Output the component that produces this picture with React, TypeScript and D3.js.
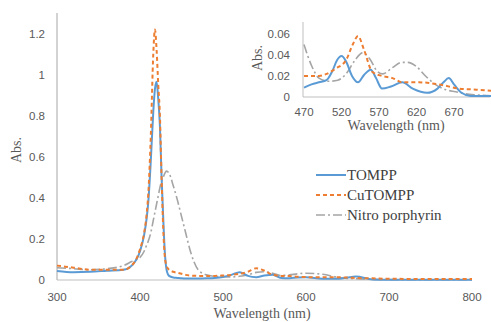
import React from "react";
import * as d3 from "d3";

// Main spectrum data
const mainWl = [300, 320, 340, 360, 380, 390, 400, 405, 408, 410, 413, 416, 418, 420, 422, 424, 426, 428, 430, 432, 435, 440, 445, 450, 455, 460, 470, 480, 490, 500, 510, 520, 530, 540, 550, 560, 570, 580, 590, 600, 620, 640, 650, 660, 680, 700, 750, 800];
const tomppAbs = [0.044, 0.038, 0.04, 0.045, 0.05, 0.07, 0.14, 0.22, 0.3, 0.38, 0.58, 0.82, 0.93, 0.965, 0.88, 0.75, 0.5, 0.3, 0.13, 0.05, 0.02, 0.012, 0.01, 0.008, 0.007, 0.007, 0.007, 0.008, 0.01, 0.015, 0.025, 0.038, 0.02, 0.014, 0.022, 0.026, 0.01, 0.009, 0.012, 0.013, 0.006, 0.006, 0.012, 0.017, 0.003, 0.001, 0.001, 0.001];
const cuAbs = [0.07, 0.06, 0.05, 0.05, 0.05, 0.07, 0.15, 0.23, 0.32, 0.42, 0.7, 1.1, 1.22, 1.12, 0.95, 0.8, 0.5, 0.25, 0.11, 0.07, 0.05, 0.04, 0.035, 0.03, 0.025, 0.022, 0.02, 0.02, 0.02, 0.022, 0.025, 0.03, 0.04, 0.057, 0.045, 0.025, 0.02, 0.019, 0.016, 0.014, 0.014, 0.013, 0.012, 0.01, 0.008, 0.006, 0.005, 0.005];
const nitroAbs = [0.06, 0.055, 0.05, 0.055, 0.07, 0.09, 0.11, 0.14, 0.17, 0.19, 0.23, 0.29, 0.33, 0.37, 0.41, 0.45, 0.48, 0.5, 0.52, 0.53, 0.52, 0.46, 0.39, 0.31, 0.23, 0.15, 0.05, 0.025, 0.018, 0.016, 0.015, 0.018, 0.025, 0.037, 0.04, 0.033, 0.022, 0.025, 0.03, 0.033, 0.028, 0.012, 0.008, 0.006, 0.003, 0.002, 0.001, 0.001];
const mainXTicks = [300, 400, 500, 600, 700, 800];
const mainYTicks = [0, 0.2, 0.4, 0.6, 0.8, 1, 1.2];

// Inset data
const insetTomppWl = [470, 480, 490, 500, 508, 514, 520, 526, 534, 542, 550, 559, 566, 574, 586, 601, 615, 634, 648, 656, 663, 670, 680, 692, 720];
const insetTomppAbs = [0.009, 0.012, 0.014, 0.016, 0.025, 0.035, 0.039, 0.034, 0.02, 0.014, 0.021, 0.026, 0.018, 0.008, 0.01, 0.014, 0.008, 0.004, 0.008, 0.014, 0.018, 0.012, 0.004, 0.001, 0.001];
const insetCuWl = [470, 480, 490, 500, 512, 526, 535, 542, 550, 561, 574, 588, 601, 623, 650, 677, 700, 720];
const insetCuAbs = [0.02, 0.02, 0.02, 0.022, 0.027, 0.035, 0.05, 0.058, 0.045, 0.024, 0.02, 0.018, 0.014, 0.014, 0.012, 0.008, 0.007, 0.006];
const insetNitroWl = [470, 480, 490, 503, 515, 526, 538, 548, 558, 567, 575, 588, 600, 608, 620, 632, 645, 659, 672, 686, 700, 720];
const insetNitroAbs = [0.05, 0.03, 0.018, 0.015, 0.016, 0.022, 0.035, 0.042, 0.036, 0.025, 0.022, 0.028, 0.033, 0.033, 0.029, 0.02, 0.012, 0.007, 0.005, 0.003, 0.002, 0.001];
const insetXTicks = [470, 520, 570, 620, 670];
const insetYTicks = [0, 0.02, 0.04, 0.06];

const seriesNames = ["TOMPP", "CuTOMPP", "Nitro porphyrin"];
const colors = ["#5B9BD5", "#ED7D31", "#A5A5A5"];
const dashes = ["", "4,3", "9,3,2,3"];
const widths = [2, 2, 1.6];

const sans = "'Liberation Sans', Arial, sans-serif";
const serif = "'Liberation Serif', 'Times New Roman', serif";

export default function App() {
  const W = 491, H = 322;
  const x = d3.scaleLinear().domain([300, 800]).range([57, 472]);
  const y = d3.scaleLinear().domain([0, 1.3]).range([280, 13]);
  const ix = d3.scaleLinear().domain([470, 718]).range([304, 490]);
  const iy = d3.scaleLinear().domain([0, 0.07]).range([97, 23.5]);

  const mainLine = d3.line<[number, number]>().x(d => x(d[0])).y(d => y(d[1])).curve(d3.curveMonotoneX);
  const insetLine = d3.line<[number, number]>().x(d => ix(d[0])).y(d => iy(d[1])).curve(d3.curveMonotoneX);

  const mainSeries = [tomppAbs, cuAbs, nitroAbs].map(vals => mainWl.map((w, i) => [w, vals[i]] as [number, number]));
  const insetSeries = [
    insetTomppWl.map((w, i) => [w, insetTomppAbs[i]] as [number, number]),
    insetCuWl.map((w, i) => [w, insetCuAbs[i]] as [number, number]),
    insetNitroWl.map((w, i) => [w, insetNitroAbs[i]] as [number, number]),
  ];
  const drawOrder = [2, 0, 1];

  return (
    <svg width={W} height={H} style={{ position: "absolute", left: 0, top: 0, background: "#fff" }}>
      {/* main axes */}
      <line x1={57} x2={57} y1={13} y2={280} stroke="#a6a6a6" strokeWidth={1} />
      <line x1={57} x2={472} y1={280} y2={280} stroke="#bfbfbf" strokeWidth={1} />
      {mainYTicks.map(t => (
        <text key={t} x={45} y={y(t) + 4} textAnchor="end" fontFamily={sans} fontSize={11.5} fill="#595959">{String(t)}</text>
      ))}
      {mainXTicks.map(t => (
        <text key={t} x={x(t)} y={301} textAnchor="middle" fontFamily={sans} fontSize={11.5} fill="#595959">{t}</text>
      ))}
      <text x={262} y={318} textAnchor="middle" fontFamily={serif} fontSize={14} fill="#595959">Wavelength (nm)</text>
      <text transform="translate(21,150) rotate(-90)" textAnchor="middle" fontFamily={serif} fontSize={14} fill="#595959">Abs.</text>

      {drawOrder.map(i => (
        <path key={i} d={mainLine(mainSeries[i]) || ""} fill="none" stroke={colors[i]} strokeWidth={widths[i]} strokeDasharray={dashes[i]} />
      ))}

      {/* legend */}
      {seriesNames.map((n, i) => {
        const ly = 175 + i * 20;
        return (
          <g key={n}>
            <line x1={316} x2={346} y1={ly} y2={ly} stroke={colors[i]} strokeWidth={widths[i]} strokeDasharray={dashes[i]} />
            <text x={347} y={ly + 5} fontFamily={serif} fontSize={15} fill="#404040">{n}</text>
          </g>
        );
      })}

      {/* inset */}
      <line x1={303} x2={303} y1={22} y2={97} stroke="#bfbfbf" strokeWidth={1} />
      <line x1={303} x2={490} y1={97} y2={97} stroke="#bfbfbf" strokeWidth={1} />
      {insetYTicks.map(t => (
        <text key={t} x={290} y={iy(t) + 4} textAnchor="end" fontFamily={sans} fontSize={11.5} fill="#595959">{String(t)}</text>
      ))}
      {insetXTicks.map(t => (
        <text key={t} x={ix(t)} y={116} textAnchor="middle" fontFamily={sans} fontSize={11.5} fill="#595959">{t}</text>
      ))}
      <text x={396} y={130} textAnchor="middle" fontFamily={serif} fontSize={14} fill="#595959">Wavelength (nm)</text>
      <text transform="translate(262,58) rotate(-90)" textAnchor="middle" fontFamily={serif} fontSize={14} fill="#595959">Abs.</text>
      {drawOrder.map(i => (
        <path key={i} d={insetLine(insetSeries[i]) || ""} fill="none" stroke={colors[i]} strokeWidth={widths[i]} strokeDasharray={dashes[i]} />
      ))}
    </svg>
  );
}
